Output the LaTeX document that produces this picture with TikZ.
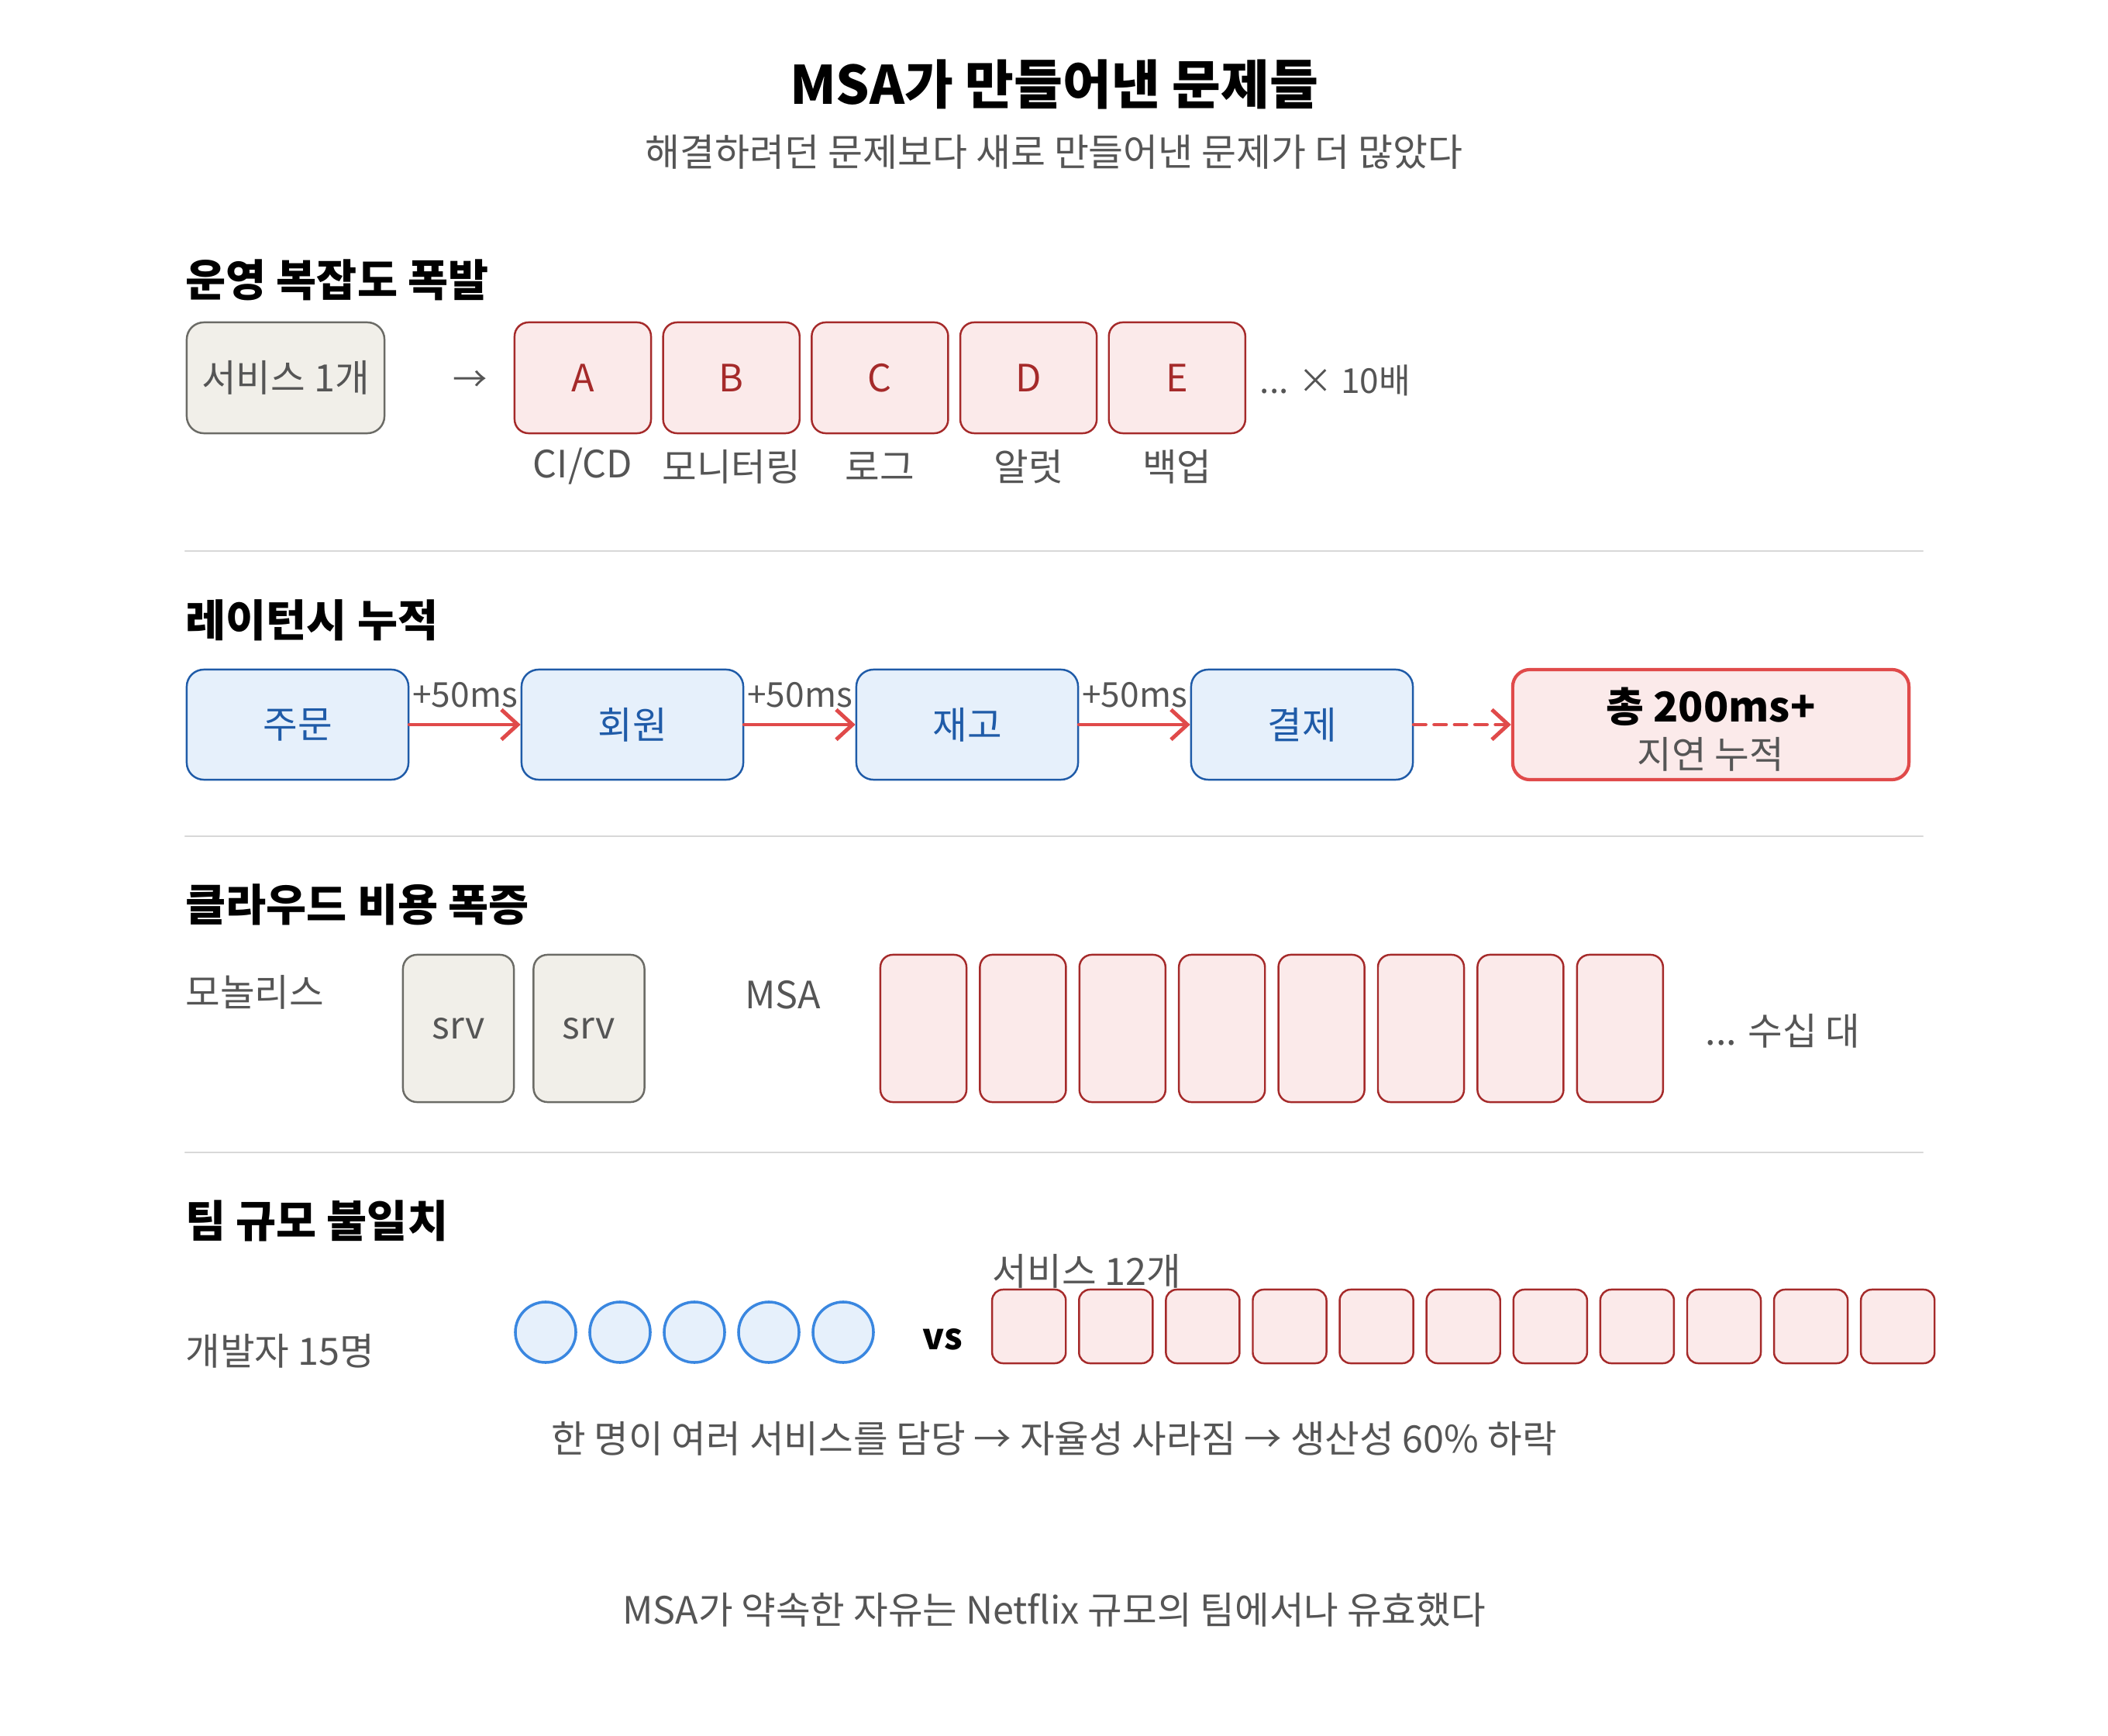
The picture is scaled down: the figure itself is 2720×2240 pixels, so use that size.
\documentclass[tikz,border=0pt]{standalone}
\usepackage{fontspec}
\setmainfont{Noto Sans CJK KR}
\usetikzlibrary{arrows.meta,positioning}

\definecolor{txtgray}{HTML}{555555}
\definecolor{boxgray}{HTML}{6B6B66}
\definecolor{fillgray}{HTML}{F1EFE9}
\definecolor{darkred}{HTML}{A52A2A}
\definecolor{fillred}{HTML}{FBEAEA}
\definecolor{darkblue}{HTML}{1F5BA8}
\definecolor{fillblue}{HTML}{E6F0FB}
\definecolor{arrowred}{HTML}{E04A4A}
\definecolor{circblue}{HTML}{3A87E0}
\definecolor{sepgray}{HTML}{D8D8D8}

\tikzset{
  body/.style={font=\fontsize{13.8}{16}\selectfont, text=txtgray},
  small/.style={font=\fontsize{12.6}{15}\selectfont, text=txtgray},
  heading/.style={font=\fontsize{16.1}{19}\selectfont\bfseries, anchor=west, inner xsep=0pt},
  graybox/.style={draw=boxgray, fill=fillgray, line width=0.7pt, rounded corners=0.22cm, body},
  redbox/.style={draw=darkred, fill=fillred, line width=0.7pt, rounded corners=0.18cm,
    text=darkred, font=\fontsize{13.8}{16}\selectfont},
  bluebox/.style={draw=darkblue, fill=fillblue, line width=0.7pt, rounded corners=0.22cm,
    text=darkblue, font=\fontsize{13.8}{16}\selectfont, minimum width=2.86cm, minimum height=1.42cm},
  person/.style={circle, draw=circblue, fill=fillblue, line width=1pt, minimum size=0.78cm, inner sep=0pt},
  sep/.style={draw=sepgray, line width=0.6pt},
  hop/.style={draw=arrowred, line width=1.4pt, -{Straight Barb[length=6pt,width=11pt,line width=1.4pt]}}
}

\begin{document}
\begin{tikzpicture}[line cap=round,line join=round,x=0.01cm,y=-0.01cm]
  \fill[white] (0,0) rectangle (2720,2240);
  \useasboundingbox (0,0) rectangle (2720,2240);

  % titles
  \node[font=\fontsize{19.4}{23}\selectfont\bfseries] (title) at (1360,109) {MSA가 만들어낸 문제들};
  \node[font=\fontsize{13.9}{16}\selectfont, text=txtgray] (subtitle) at (1360,196) {해결하려던 문제보다 새로 만들어낸 문제가 더 많았다};

  % operations
  \node[heading] (h1) at (239,361) {운영 복잡도 폭발};
  \node[graybox, minimum width=2.55cm, minimum height=1.43cm] (single) at (368.5,487.5) {서비스 1개};
  \node[small] (to) at (607,492) {→};
  \foreach \n [count=\i] in {A,B,C,D,E}
    \node[redbox, minimum width=1.76cm, minimum height=1.43cm] (op\i) at ({752+(\i-1)*191.7},487.5) {\n};
  \foreach \l [count=\i] in {{CI/CD},모니터링,로그,알럿,백업}
    \node[body] (opl\i) at ({752+(\i-1)*191.7},602) {\l};
  \node[small, anchor=west, inner xsep=0pt] (times) at (1625,491) {... × 10배};
  \draw[sep] (239,711) -- (2481,711);

  % latency
  \node[heading] (h2) at (239,800) {레이턴시 누적};
  \foreach \n [count=\i] in {주문,회원,재고,결제}
    \node[bluebox] (svc\i) at ({384+(\i-1)*432},935) {\n};
  \node[draw=arrowred, fill=fillred, line width=1.2pt, rounded corners=0.22cm,
    minimum width=5.11cm, minimum height=1.42cm] (total) at (2207.5,935) {};
  \node[font=\fontsize{15.1}{18}\selectfont\bfseries] (totalms) at (2207.5,912) {총 200ms+};
  \node[body] (totalsub) at (2207.5,973) {지연 누적};
  \foreach \i [evaluate=\i as \j using int(\i+1)] in {1,2,3}
    \draw[hop] (svc\i.east) -- node[small, midway, yshift=0.38cm] {+50ms} (svc\j.west);
  \draw[hop, dash pattern=on 4.3pt off 3.2pt] (svc4.east) -- (total.west);
  \draw[sep] (239,1079) -- (2481,1079);

  % cloud cost
  \node[heading] (h3) at (239,1167) {클라우드 비용 폭증};
  \node[body, anchor=west, inner xsep=0pt] (mono) at (239,1280) {모놀리스};
  \foreach \i in {0,1}
    \node[graybox, rounded corners=0.18cm, minimum width=1.43cm, minimum height=1.90cm] (srv\i) at ({591.5+\i*168.5},1327) {srv};
  \node[body] (msa) at (1010,1284) {MSA};
  \foreach \i in {0,...,7}
    \node[redbox, rounded corners=0.16cm, minimum width=1.11cm, minimum height=1.90cm] (inst\i) at ({1191.5+\i*128.4},1327) {};
  \node[body, anchor=west, inner xsep=0pt] (tens) at (2200,1330) {... 수십 대};
  \draw[sep] (239,1487) -- (2481,1487);

  % team size
  \node[heading] (h4) at (239,1575) {팀 규모 불일치};
  \node[body, anchor=west, inner xsep=0pt] (devs) at (239,1743) {개발자 15명};
  \foreach \i in {0,...,4}
    \node[person] (dev\i) at ({704+\i*96},1719) {};
  \node[font=\fontsize{13.2}{15}\selectfont\bfseries] (vs) at (1216,1728) {vs};
  \foreach \i in {0,...,10}
    \node[redbox, rounded corners=0.14cm, minimum width=0.95cm, minimum height=0.95cm] (ms\i) at ({1327.7+\i*112.1},1711.5) {};
  \node[body, anchor=west, inner xsep=0pt] (mscount) at (1280,1640) {서비스 12개};
  \node[body] (result) at (1360,1856) {한 명이 여러 서비스를 담당 → 자율성 사라짐 → 생산성 60\% 하락};

  \node[body] (footer) at (1360,2077) {MSA가 약속한 자유는 Netflix 규모의 팀에서나 유효했다};
\end{tikzpicture}
\end{document}
